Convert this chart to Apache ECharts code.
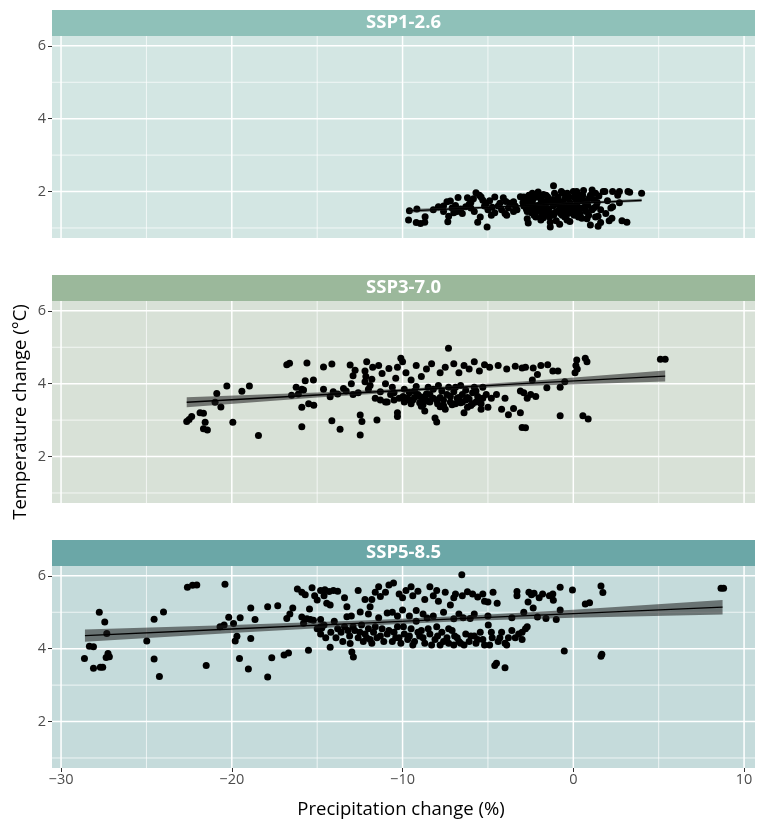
<!DOCTYPE html>
<html><head><meta charset="utf-8">
<script src="https://cdn.jsdelivr.net/npm/echarts@6/dist/echarts.min.js"></script>
<style>html,body{margin:0;padding:0;background:#fff}#c{width:765px;height:820px}</style>
</head><body><div id="c"></div>
<script>
const panelNames = ['SSP1-2.6', 'SSP3-7.0', 'SSP5-8.5'];
const xTitle = 'Precipitation change (%)';
const yTitle = 'Temperature change (°C)';
const xTicks = [-30, -20, -10, 0, 10];
const xMinor = [-25, -15, -5, 5];
const yTicks = [2, 4, 6];
const yMinor = [1, 3, 5];

const ssp126 = [
[-9.65,1.22],[-9.6,1.47],[-9.16,1.52],[-9.2,1.15],[-8.95,1.12],[-8.7,1.16],[-8.68,1.31],[-7.9,1.58],[-7.6,1.6],[-7.4,1.72],[-7.2,1.74],[-7.35,1.17],[-7.3,1.32],[-7.0,1.42],[-6.75,1.84],[-6.2,1.83],[-6.6,1.52],[-6.3,1.58],[-6.0,1.55],[-5.7,1.97],[-5.85,1.8],[-5.5,1.9],[-5.3,1.76],[-5.6,1.16],[-5.05,1.03],[-4.6,1.85],[-4.1,1.83],[-3.95,1.73],[-4.75,1.57],[-4.4,1.6],[-3.8,1.55],[-3.4,1.6],[-4.6,1.42],[-4.0,1.4],[-3.5,1.45],[-6.8,1.45],[-6.5,1.4],[-3.1,1.86],[-5.2,1.6],[-5.0,1.5],[-4.2,1.5],[-3.3,1.5],[-6.0,1.7],[-7.6,1.45],[-8.2,1.5],[-5.45,1.3],[-4.9,1.75],[-3.7,1.68],
[-2.9,1.6],[-2.8,1.75],[-2.7,1.45],[-2.6,1.9],[-2.5,1.55],[-2.4,1.7],[-2.3,1.35],[-2.2,1.85],[-2.1,1.62],[-2.06,1.99],[-2.0,1.48],[-1.9,1.78],[-1.8,1.55],[-1.75,1.92],[-1.7,1.4],[-1.6,1.68],[-1.5,1.85],[-1.45,1.52],[-1.4,1.3],[-1.3,1.75],[-1.2,1.6],[-1.16,2.16],[-1.1,1.95],[-1.0,1.45],[-0.95,1.7],[-0.9,1.85],[-0.8,1.55],[-0.7,2.0],[-0.65,1.35],[-0.6,1.65],[-0.5,1.8],[-0.45,1.5],[-0.35,1.95],[-0.3,1.4],[-0.2,1.7],[-0.1,1.58],[0.0,2.0],[0.05,1.85],[0.1,1.45],[0.2,1.68],[0.3,1.3],[0.35,1.9],[0.45,1.55],[0.5,1.27],[0.6,2.03],[0.65,1.75],[0.75,1.45],[0.85,1.62],[1.0,1.08],[1.0,1.9],[1.1,2.04],[1.2,1.55],[1.3,1.3],[1.4,1.7],[1.45,1.32],[1.5,1.88],[1.6,1.5],[1.75,2.0],[-2.64,1.14],[-1.35,1.03],[-1.35,1.16],[-0.37,1.22],[-0.2,1.18],[-2.7,1.25],[-1.9,1.22],[-1.0,1.2],[-0.8,1.1],[-2.2,1.3],[0.8,1.25],[0.9,1.35],[-1.6,1.9],[-2.4,1.95],[-0.6,1.95],[0.2,2.0],[1.3,1.95],[-2.5,1.78],[-1.9,1.65],[-1.2,1.78],[-0.4,1.62],[0.4,1.75],[1.2,1.78],[-2.3,1.58],[-1.5,1.45],[-0.7,1.5],[0.1,1.6],[0.7,1.6],[-2.9,1.85],
[-2.95,1.7],[-2.75,1.52],[-2.55,1.66],[-2.35,1.8],[-2.15,1.45],[-1.95,1.88],[-1.85,1.35],[-1.65,1.58],[-1.55,1.75],[-1.25,1.4],[-1.05,1.65],[-0.85,1.75],[-0.75,1.4],[-0.55,1.58],[-0.25,1.85],[-0.15,1.48],[0.15,1.78],[0.25,1.55],[0.4,1.4],[0.55,1.9],[0.9,1.8],[1.1,1.5],[1.35,1.6],[-2.45,1.42],[-1.75,1.28],[-1.15,1.35],[-0.5,1.3],[0.05,1.35],[-3.5,1.72],[-4.3,1.68],[-5.1,1.68],[-6.1,1.65],[-6.9,1.62],[-7.1,1.55],[-5.8,1.45],[-4.8,1.35],[-3.9,1.35],[-5.4,1.85],
[2.26,1.27],[2.1,1.2],[2.85,1.2],[3.14,1.16],[2.3,1.58],[2.7,1.69],[2.7,2.0],[3.2,2.0],[4.0,1.95],[2.3,2.0],[1.85,2.0],[2.0,1.75],[1.9,1.4],[2.6,1.9],[3.3,1.98],[2.2,1.55],[1.6,1.15],[1.45,1.05]
];

const ssp370 = [
[-22.64,2.96],[-22.5,3.02],[-22.35,3.1],[-21.86,3.2],[-21.66,3.19],[-21.56,2.94],[-21.66,2.76],[-21.43,2.73],[-20.98,3.49],[-20.88,3.73],[-20.64,3.36],[-20.29,3.94],[-19.94,2.94],[-19.41,3.79],[-18.97,3.94],[-18.44,2.58],[-16.78,4.52],[-16.62,4.56],[-16.23,3.9],[-16.1,3.72],[-16.5,3.68],[-15.9,3.35],[-15.9,2.82],[-15.7,4.08],[-15.6,4.57],[-15.5,3.45],[-15.22,4.1],[-15.2,3.41],[-15.9,3.85],[-15.8,3.83],[-14.63,4.46],[-14.14,4.54],[-14.63,3.85],[-14.24,3.64],[-14.06,3.78],[-14.14,2.98],[-13.66,2.75],[-13.46,3.87],[-13.8,3.72],[-13.3,3.8],[-13.07,4.51],[-13.0,4.0],[-12.9,4.22],[-12.78,4.37],[-12.48,2.59],[-12.48,3.14],[-12.38,2.96],[-12.9,3.7],[-12.6,3.75],[-12.2,4.05],[-12.2,4.35],[-12.1,4.6],[-12.15,4.2],[-12.0,3.85],[-11.9,3.95],[-11.8,4.12],[-11.75,4.45],[-11.6,3.6],[-11.5,3.0],[-11.4,4.5],[-11.3,3.78],[-11.2,4.28],[-11.0,4.0],[-10.9,3.5],[-10.8,4.42],[-10.7,3.7],[-10.6,3.9],[-10.5,3.55],[-10.4,4.15],[-10.3,4.45],[-10.3,3.2],[-10.3,3.1],[-10.1,4.7],[-10.0,4.6],[-9.97,3.65],[-9.9,3.5],[-9.8,4.3],[-9.7,3.6],[-9.6,3.75],[-9.5,4.1],[-9.4,3.55],[-9.3,3.62],[-9.2,4.5],[-9.1,3.7],[-9.0,3.48],[-8.9,4.2],[-8.8,3.58],[-8.7,3.65],[-8.6,4.4],[-8.5,3.52],[-8.4,3.7],[-8.3,4.55],[-8.2,3.6],[-8.1,3.06],[-8.0,2.95],[-7.95,3.45],[-7.8,3.37],[-7.8,4.3],[-7.7,3.8],[-7.6,3.55],[-7.5,4.45],[-7.31,4.97],[-7.2,3.65],[-7.1,3.42],[-7.0,4.55],[-6.9,3.9],[-6.8,3.6],[-6.7,4.3],[-6.6,3.48],[-6.5,3.7],[-6.4,4.5],[-6.3,3.55],[-6.2,3.62],[-6.1,4.4],[-6.0,3.4],[-5.9,3.75],[-5.8,4.6],[-5.7,3.5],[-5.6,3.65],[-5.5,4.35],[-5.4,3.45],[-5.3,3.9],[-5.2,4.52],[-5.1,3.7],[-5.0,3.35],[-4.9,4.45],[-4.8,3.6],[-4.5,3.7],[-4.4,4.5],[-4.2,3.3],[-4.0,3.6],[-3.9,4.4],[-3.8,3.15],[-3.5,3.32],[-3.4,4.48],[-3.1,3.2],[-3.1,3.8],[-3.0,4.43],[-3.0,2.8],[-2.8,2.79],[-2.9,3.75],[-2.8,4.45],[-2.7,3.6],[-2.5,3.7],[-2.35,4.43],[-2.4,4.1],[-2.2,3.65],[-2.1,4.25],[-1.9,4.5],[-1.55,3.89],[-1.5,4.52],[-1.2,4.35],[-0.9,4.35],[-0.77,3.12],[-0.77,3.9],[-0.5,4.05],[0.1,4.3],[0.15,4.5],[0.2,4.65],[0.23,4.4],[0.7,4.7],[0.8,4.6],[0.56,3.12],[0.87,3.03],[5.1,4.67],[5.38,4.67],
[-9.8,3.55],[-9.5,3.45],[-9.3,3.8],[-9.0,3.65],[-8.8,3.42],[-8.6,3.72],[-8.4,3.5],[-8.2,3.85],[-8.0,3.55],[-7.8,3.62],[-7.6,3.4],[-7.4,3.7],[-7.2,3.5],[-7.0,3.78],[-6.9,3.45],[-6.7,3.62],[-6.5,3.5],[-6.3,3.82],[-6.1,3.58],[-5.9,3.45],[-5.7,3.8],[-5.5,3.55],[-5.3,3.6],[-9.9,3.85],[-9.2,3.92],[-8.5,3.9],[-7.9,3.95],[-7.3,3.9],[-6.6,3.95],[-5.8,3.9],[-10.2,3.6],[-10.5,3.75],[-11.0,3.5],[-11.3,3.55],[-8.9,3.38],[-7.5,3.3],[-6.2,3.35],[-5.4,3.3],[-8.7,3.25],[-6.4,3.2]
];

const ssp585 = [
[-28.63,3.73],[-28.34,4.07],[-28.1,4.05],[-28.1,3.46],[-27.76,5.0],[-27.7,3.49],[-27.56,3.49],[-27.44,4.73],[-27.32,4.42],[-27.36,3.76],[-27.25,3.87],[-27.17,3.78],[-24.98,4.21],[-24.55,4.81],[-24.55,3.72],[-24.24,3.24],[-24.0,5.01],[-22.6,5.69],[-22.3,5.74],[-22.05,5.75],[-21.5,3.54],[-20.69,4.6],[-20.45,4.65],[-20.4,5.77],[-20.18,4.86],[-19.9,4.69],[-19.8,4.21],[-19.7,4.34],[-19.55,3.73],[-19.51,4.85],[-19.03,3.44],[-18.89,4.28],[-18.89,5.12],[-18.64,4.8],[-17.9,3.22],[-17.9,5.15],[-17.66,3.75],[-17.31,5.18],[-16.94,3.83],[-16.68,3.88],[-16.78,4.83],[-16.6,4.95],[-16.43,5.12],[-16.16,5.64],[-15.9,5.55],[-15.7,5.48],[-15.9,4.87],[-15.6,4.82],[-15.4,4.8],[-15.22,4.78],[-15.51,3.96],[-15.45,5.09],[-15.3,5.67],[-15.15,5.45],[-15.0,5.34],[-14.8,5.6],[-14.55,5.62],[-14.3,5.57],[-14.05,5.6],[-14.73,4.57],[-14.5,4.3],[-14.24,4.04],[-14.44,5.25],[-14.24,5.2],[-14.8,4.8],[-14.8,4.6],[-14.8,4.4],[-14.0,4.75],[-13.8,4.55],[-13.6,4.45],[-13.4,4.6],[-13.26,5.15],[-13.26,4.88],[-13.07,4.14],[-12.97,3.91],[-12.88,3.77],[-13.1,4.35],[-12.8,4.5],[-12.6,4.3],[-12.48,5.01],[-12.4,4.65],[-12.2,4.4],[-12.0,4.55],[-11.9,5.15],[-11.8,5.35],[-11.9,4.25],[-11.7,4.45],[-11.6,4.6],[-11.4,5.7],[-11.3,5.43],[-11.3,4.35],[-11.1,4.2],[-11.0,5.55],[-10.9,4.98],[-10.8,4.5],[-10.8,5.75],[-10.6,5.0],[-10.53,5.8],[-10.4,4.3],[-10.3,4.6],[-10.2,5.5],[-10.1,4.15],[-10.0,5.06],[-9.9,4.4],[-9.8,5.6],[-9.7,4.25],[-9.6,4.9],[-9.5,4.55],[-9.4,5.45],[-9.3,4.2],[-9.2,4.75],[-9.1,5.58],[-9.0,4.35],[-8.9,4.5],[-8.8,4.95],[-8.7,4.15],[-8.56,4.84],[-8.4,5.7],[-8.4,4.4],[-8.2,5.45],[-8.1,4.25],[-8.0,4.6],[-7.9,5.3],[-7.8,4.1],[-7.7,4.45],[-7.5,5.55],[-7.4,4.3],[-7.3,4.15],[-7.2,5.2],[-7.1,4.5],[-7.0,4.1],[-6.9,5.5],[-6.8,4.3],[-6.7,4.95],[-6.6,4.15],[-6.53,6.03],[-6.45,4.85],[-6.3,4.4],[-6.2,5.56],[-6.1,4.2],[-6.04,4.83],[-5.9,5.5],[-5.8,4.35],[-5.7,4.15],[-5.6,5.42],[-5.45,4.45],[-5.3,4.25],[-5.2,5.3],[-5.0,5.28],[-4.98,4.65],[-4.9,4.1],[-4.75,4.3],[-4.6,3.54],[-4.5,3.6],[-4.46,5.25],[-4.4,4.2],[-4.2,4.45],[-4.0,3.48],[-4.0,4.15],[-3.8,4.3],[-3.6,4.5],[-3.3,5.57],[-3.3,5.45],[-3.2,4.4],[-3.0,4.25],[-2.8,4.55],[-2.65,5.28],[-2.6,5.55],[-2.45,5.48],[-2.35,5.12],[-2.3,5.52],[-2.1,4.87],[-1.8,5.5],[-1.6,4.83],[-1.4,5.45],[-1.17,5.33],[-1.0,4.8],[-0.77,5.06],[-0.77,5.69],[-0.53,3.94],[-0.05,5.61],[0.7,5.23],[0.95,5.26],[1.62,5.72],[1.73,5.54],[1.62,3.79],[1.67,3.85],[8.65,5.66],[8.8,5.66],
[-15.8,4.7],[-15.0,4.55],[-14.6,4.65],[-14.2,4.45],[-13.9,4.3],[-13.5,4.2],[-13.2,4.5],[-12.9,4.6],[-12.5,4.45],[-12.3,4.2],[-12.1,4.3],[-11.8,4.15],[-11.5,4.3],[-11.2,4.55],[-10.9,4.4],[-10.6,4.2],[-10.5,4.45],[-10.2,4.3],[-9.95,4.6],[-9.6,4.35],[-9.4,4.1],[-9.1,4.45],[-8.8,4.3],[-8.5,4.55],[-8.3,4.1],[-7.95,4.35],[-7.6,4.2],[-7.3,4.55],[-6.95,4.35],[-6.7,4.2],[-6.4,4.1],[-6.0,4.35],[-5.6,4.25],[-5.2,4.1],[-4.8,4.45],[-4.3,4.3],[-3.9,4.1],[-3.4,4.3],[-3.0,4.45],[-2.7,4.6],
[-14.6,5.45],[-13.8,5.58],[-13.4,5.4],[-12.6,5.6],[-12.2,5.35],[-11.6,5.55],[-10.0,5.4],[-9.5,5.7],[-8.7,5.35],[-8.0,5.6],[-7.0,5.4],[-6.5,5.45],[-5.3,5.5],[-4.7,5.55],[-2.0,5.4],[-1.2,5.5],
[-13.0,4.9],[-12.0,4.95],[-11.4,4.85],[-10.3,4.9],[-9.2,5.05],[-8.2,4.9],[-7.6,5.0],[-7.0,4.82],[-5.8,4.95],[-5.0,4.9],[-3.6,4.85],[-2.9,5.0]
];

// regression fit: [x, fit, lower, upper]
const fit126 = [[-9.6,1.47,1.42,1.52],[-3,1.61,1.59,1.63],[4.0,1.76,1.72,1.80]];
const fit370 = [[-22.64,3.49,3.35,3.63],[-15,3.69,3.62,3.76],[-9,3.84,3.80,3.88],[-3,4.0,3.94,4.06],[5.38,4.21,4.06,4.36]];
const fit585 = [[-28.6,4.36,4.19,4.53],[-20,4.54,4.43,4.65],[-12,4.71,4.64,4.78],[-6,4.84,4.77,4.91],[0,4.96,4.85,5.07],[8.74,5.14,4.94,5.34]];

const panelData = [ssp126, ssp370, ssp585];
const panelFits = [fit126, fit370, fit585];
const stripColors = ['#8FC1B9', '#9BB89B', '#6BA7A7'];
const panelBg = ['#D3E6E3', '#D8E1D7', '#C5DBDB'];

const X_MIN = -30.53, X_MAX = 10.64, Y_MIN = 0.725, Y_MAX = 6.27;
const FONT = "'Open Sans', 'Noto Sans', sans-serif";
const tops = [36, 301, 566];
const PH = 202;
const minus = v => String(v).replace('-', '\u2212');

const chart = echarts.init(document.getElementById('c'), null, {renderer: 'canvas'});

const grids = [], xAxes = [], yAxes = [], series = [], graphics = [];
const gridLineData = [
  ...xTicks.map(v => [v, 0, 1]), ...xMinor.map(v => [v, 0, 0]),
  ...yTicks.map(v => [v, 1, 1]), ...yMinor.map(v => [v, 1, 0])
];

for (let i = 0; i < 3; i++) {
  const bottom = i === 2;
  grids.push({left: 52, right: 10, top: tops[i], height: PH, show: true,
    backgroundColor: panelBg[i], borderWidth: 0, containLabel: false});
  xAxes.push({type: 'value', gridIndex: i, min: X_MIN, max: X_MAX,
    splitLine: {show: false}, axisLine: {show: false, onZero: false},
    axisTick: {show: bottom, customValues: xTicks, length: 4, lineStyle: {color: '#333', width: 1}},
    axisLabel: {show: bottom, customValues: xTicks, formatter: minus, color: '#4D4D4D',
      fontSize: 14.5, fontFamily: FONT, margin: 4}});
  yAxes.push({type: 'value', gridIndex: i, min: Y_MIN, max: Y_MAX,
    splitLine: {show: false}, axisLine: {show: false, onZero: false},
    axisTick: {show: true, customValues: yTicks, length: 4, lineStyle: {color: '#333', width: 1}},
    axisLabel: {show: true, customValues: yTicks, color: '#4D4D4D', fontSize: 14.5,
      fontFamily: FONT, margin: 6}});

  // panel grid lines
  series.push({type: 'custom', xAxisIndex: i, yAxisIndex: i, z: 1, silent: true,
    data: gridLineData, clip: false,
    renderItem: function (params, api) {
      const v = api.value(0), horiz = api.value(1), major = api.value(2);
      const cs = params.coordSys;
      let shape;
      if (!horiz) {
        const x = api.coord([v, Y_MIN])[0];
        shape = {x1: x, y1: cs.y, x2: x, y2: cs.y + cs.height};
      } else {
        const y = api.coord([X_MIN, v])[1];
        shape = {x1: cs.x, y1: y, x2: cs.x + cs.width, y2: y};
      }
      return {type: 'line', shape: shape,
        style: {stroke: '#FFFFFF', lineWidth: major ? 1.5 : 0.7}};
    }});

  // points
  series.push({type: 'scatter', xAxisIndex: i, yAxisIndex: i, z: 3, silent: true,
    data: panelData[i], symbolSize: 7, itemStyle: {color: '#000000', opacity: 1}});

  // confidence band
  const fit = panelFits[i];
  series.push({type: 'custom', xAxisIndex: i, yAxisIndex: i, z: 4, silent: true,
    data: fit.map(d => [d[0], d[1]]),
    renderItem: function (params, api) {
      if (params.dataIndex !== 0) return null;
      const up = fit.map(d => api.coord([d[0], d[3]]));
      const lo = fit.map(d => api.coord([d[0], d[2]])).reverse();
      return {type: 'polygon', shape: {points: up.concat(lo)},
        style: {fill: 'rgba(30,30,30,0.55)'}};
    }});

  // fitted line
  series.push({type: 'line', xAxisIndex: i, yAxisIndex: i, z: 5, silent: true,
    data: fit.map(d => [d[0], d[1]]), symbol: 'none',
    lineStyle: {color: '#000000', width: 1.3}});

  // strip
  graphics.push({type: 'rect', shape: {x: 52, y: tops[i] - 26, width: 703, height: 26},
    style: {fill: stripColors[i]}, silent: true});
  graphics.push({type: 'text', style: {x: 403.5, y: tops[i] - 13, text: panelNames[i],
    fill: '#FFFFFF', font: 'bold 18.5px ' + FONT, textAlign: 'center', textVerticalAlign: 'middle'},
    silent: true});
}

graphics.push({type: 'text', style: {x: 401, y: 810, text: xTitle, fill: '#000000',
  font: '18.5px ' + FONT, textAlign: 'center', textVerticalAlign: 'middle'}, silent: true});
graphics.push({type: 'text', x: 21, y: 412, rotation: Math.PI / 2,
  style: {x: 0, y: 0, text: yTitle, fill: '#000000', font: '18.5px ' + FONT,
    textAlign: 'center', textVerticalAlign: 'middle'}, silent: true});

chart.setOption({
  animation: false,
  backgroundColor: '#FFFFFF',
  grid: grids, xAxis: xAxes, yAxis: yAxes, series: series, graphic: graphics
});
</script></body></html>
